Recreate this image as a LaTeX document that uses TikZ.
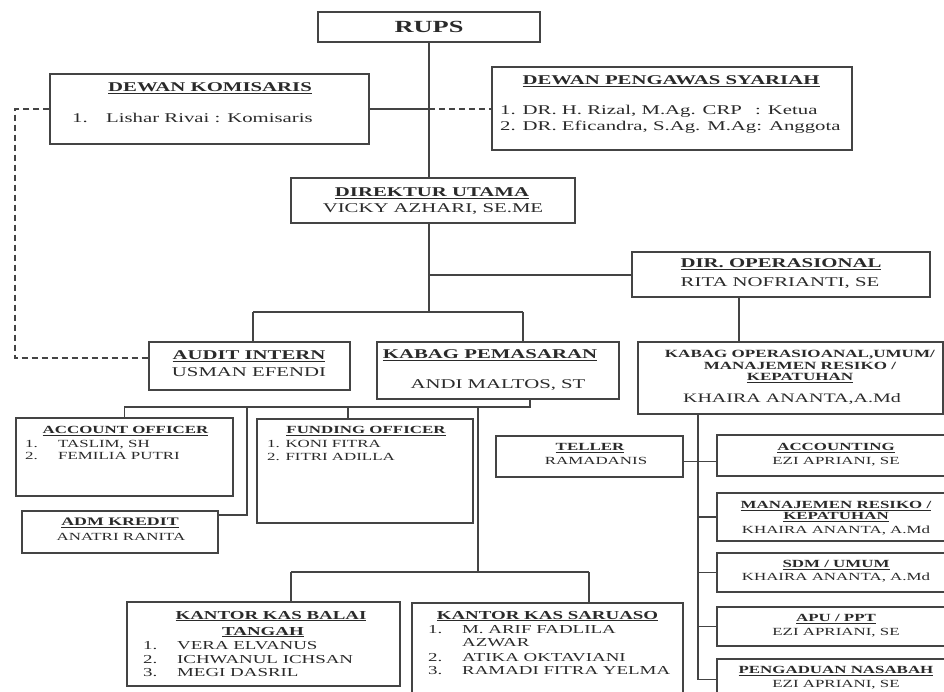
\documentclass[tikz,border=0pt]{standalone}
\usepackage{fontspec}
\setmainfont{Liberation Serif}[FakeStretch=1.55]
\definecolor{linec}{HTML}{444444}
\definecolor{txtc}{HTML}{2A2A2A}
\newcommand\szrups{\fontsize{17}{19}\selectfont}
\newcommand\szbig{\fontsize{13.4}{16}\selectfont}
\newcommand\szops{\fontsize{11}{12}\selectfont}
\newcommand\szkh{\fontsize{12.9}{15}\selectfont}
\newcommand\szsm{\fontsize{10.9}{12}\selectfont}
\newcommand\szadm{\fontsize{11.5}{13}\selectfont}
\newcommand\szkk{\fontsize{12.2}{14}\selectfont}
\newcommand\hd[1]{\textbf{\setbox0\hbox{#1}\rlap{\rule[-2.2pt]{\wd0}{0.75pt}}\box0}}
\newcommand\mybox[5]{\node[box, minimum width={(#4)-(#2)}, minimum height={(#5)-(#3)}] (#1) at ({((#2)+(#4))/2},{((#3)+(#5))/2}) {};}
\begin{document}
\begin{tikzpicture}[x=1pt,y=-1pt,
 box/.style={draw=linec, line width=1.3pt, inner sep=0pt},
 conn/.style={draw=linec, line width=1.3pt},
 dsh/.style={conn, line width=1.5pt, dash pattern=on 6pt off 4pt},
 lbl/.style={inner sep=0pt, anchor=base, text=txtc},
 lbll/.style={lbl, anchor=base west}]
\useasboundingbox (0,0) rectangle (944,692);
\fill[white] (0,0) rectangle (944,692);

% boxes
\mybox{rups}{318}{12}{540}{42}
\mybox{dk}{50}{74}{369}{144}
\mybox{dps}{492}{67}{852}{150}
\mybox{du}{291}{178}{575}{223}
\mybox{dops}{632}{252}{930}{297}
\mybox{audit}{149}{342}{350}{390}
\mybox{kpem}{377}{342}{619}{399}
\mybox{kops}{638}{342}{943}{414}
\mybox{ao}{16}{418}{233}{496}
\mybox{fo}{257}{419}{473}{523}
\mybox{adm}{22}{511}{218}{553}
\mybox{teller}{496}{436}{683}{477}
\mybox{acc}{717}{435}{947}{476}
\mybox{mr}{717}{493}{947}{541}
\mybox{sdm}{717}{553}{947}{592}
\mybox{apu}{717}{607}{947}{646}
\mybox{peng}{717}{659}{947}{700}
\mybox{kbt}{127}{602}{400}{686}
\mybox{ksar}{412}{603}{683}{700}

% junction coordinates
\coordinate (ja) at (253,312);
\coordinate (jk) at (523,312);
\coordinate (jo) at (429,275);
\coordinate (kx) at (739,0);
\coordinate (dl) at (15,0);
\coordinate (p1) at (530,407);
\coordinate (f1) at (348,407);
\coordinate (a1) at (247,407);
\coordinate (k1) at (478,407);
\coordinate (k2) at (478,572);
\coordinate (b1) at (291,572);
\coordinate (s1) at (589,572);
\coordinate (t0) at (698,0);
\coordinate (aw) at ([yshift=8pt]audit.west);
\coordinate (ae) at ([yshift=17pt]adm.east);
\coordinate (te) at ([yshift=-5pt]teller.east);

% connectors
\draw[conn] (rups.south) -- (rups.south |- du.north);
\draw[conn] (dk.east) -- (dk.east -| rups.south);
\draw[dsh] (dk.east -| rups.south) -- (dps.west |- dk.east);
\draw[dsh] (dk.west) -- (dk.west -| dl) -- (dl |- aw) -- (aw);
\draw[conn] (rups.south |- du.south) -- (rups.south |- ja);
\draw[conn] (ja) -- (jk);
\draw[conn] (ja) -- (ja |- audit.north);
\draw[conn] (jk) -- (jk |- kpem.north);
\draw[conn] (jo) -- (jo -| dops.west);
\draw[conn] (kx |- dops.south) -- (kx |- kops.north);
\draw[conn] (p1 |- kpem.south) -- (p1) -- (p1 -| ao.north) -- (ao.north);
\draw[conn] (f1) -- (f1 |- fo.north);
\draw[conn] (a1) -- (a1 |- ae) -- (ae);
\draw[conn] (k1) -- (k2);
\draw[conn] (b1) -- (s1);
\draw[conn] (b1) -- (b1 |- kbt.north);
\draw[conn] (s1) -- (s1 |- ksar.north);
\draw[conn] (t0 |- kops.south) -- (t0 |- peng.west);
\draw[conn] (te) -- (te -| acc.west);
\foreach \n in {mr,sdm,apu,peng} \draw[conn] (t0 |- \n.west) -- (\n.west);

% texts
\node[lbl,font=\szrups] (trups) at (429,33) {\textbf{RUPS}};
\node[lbl,font=\szbig] (tdk) at (210,91.4) {\hd{DEWAN KOMISARIS}};
\node[lbll,font=\szbig] (tdk1) at (72,122.4) {\makebox[34pt][l]{1.}Lishar Rivai : Komisaris};
\node[lbl,font=\szbig] (tdps) at (671,84.4) {\hd{DEWAN PENGAWAS SYARIAH}};
\node[lbll,font=\szbig] (tdps1) at (500,114.4) {\makebox[255pt][l]{1. DR. H. Rizal, M.Ag. CRP}: Ketua};
\node[lbll,font=\szbig] (tdps2) at (500,130.4) {2. DR. Eficandra, S.Ag. M.Ag: Anggota};
\node[lbl,font=\szbig] (tdu) at (432,196.4) {\hd{DIREKTUR UTAMA}};
\node[lbl,font=\szbig] (tdu1) at (433,212.4) {VICKY AZHARI, SE.ME};
\node[lbl,font=\szbig] (tdops) at (781,267.4) {\hd{DIR. OPERASIONAL}};
\node[lbl,font=\szbig] (tdops1) at (780,286.4) {RITA NOFRIANTI, SE};
\node[lbl,font=\szbig] (taud) at (249,359.4) {\hd{AUDIT INTERN}};
\node[lbl,font=\szbig] (taud1) at (249,376.4) {USMAN EFENDI};
\node[lbl,font=\szbig] (tkp) at (490,358.4) {\hd{KABAG PEMASARAN}};
\node[lbl,font=\szbig] (tkp1) at (498,388.4) {ANDI MALTOS, ST};
\node[lbl,font=\szops] (tko) at (800,357.6) {\textbf{KABAG OPERASIOANAL,UMUM/}};
\node[lbl,font=\szops] (tko2) at (800,369.6) {\textbf{MANAJEMEN RESIKO /}};
\node[lbl,font=\szops] (tko3) at (800,380.6) {\hd{KEPATUHAN}};
\node[lbl,font=\szkh] (tko4) at (792,402.3) {KHAIRA ANANTA,A.Md};

\node[lbl,font=\szsm] (tao) at (125.5,433.6) {\hd{ACCOUNT OFFICER}};
\node[lbll,font=\szsm] (tao1) at (25,447.6) {\makebox[33pt][l]{1.}TASLIM, SH};
\node[lbll,font=\szsm] (tao2) at (25,459.6) {\makebox[33pt][l]{2.}FEMILIA PUTRI};
\node[lbl,font=\szsm] (tfo) at (366,433.6) {\hd{FUNDING OFFICER}};
\node[lbll,font=\szsm] (tfo1) at (267,447.6) {1. KONI FITRA};
\node[lbll,font=\szsm] (tfo2) at (267,460.6) {2. FITRI ADILLA};
\node[lbl,font=\szadm] (tadm) at (120,525.8) {\hd{ADM KREDIT}};
\node[lbl,font=\szsm] (tadm1) at (121,540.6) {ANATRI RANITA};
\node[lbl,font=\szsm] (ttel) at (590,450.6) {\hd{TELLER}};
\node[lbl,font=\szsm] (ttel1) at (596,464.6) {RAMADANIS};

\node[lbl,font=\szsm] (tacc) at (836,450.6) {\hd{ACCOUNTING}};
\node[lbl,font=\szsm] (tacc1) at (836,464.6) {EZI APRIANI, SE};
\node[lbl,font=\szsm] (tmr) at (836,508.6) {\hd{MANAJEMEN RESIKO /}};
\node[lbl,font=\szsm] (tmr2) at (836,519.6) {\hd{KEPATUHAN}};
\node[lbl,font=\szsm] (tmr3) at (836,533.6) {KHAIRA ANANTA, A.Md};
\node[lbl,font=\szsm] (tsdm) at (836,567.6) {\hd{SDM / UMUM}};
\node[lbl,font=\szsm] (tsdm1) at (836,580.6) {KHAIRA ANANTA, A.Md};
\node[lbl,font=\szsm] (tapu) at (836,621.6) {\hd{APU / PPT}};
\node[lbl,font=\szsm] (tapu1) at (836,635.6) {EZI APRIANI, SE};
\node[lbl,font=\szsm] (tpeng) at (836,673.6) {\hd{PENGADUAN NASABAH}};
\node[lbl,font=\szsm] (tpeng1) at (836,687.6) {EZI APRIANI, SE};

\node[lbl,font=\szkk] (tkbt) at (271,619) {\hd{KANTOR KAS BALAI}};
\node[lbl,font=\szkk] (tkbt2) at (263,635) {\hd{TANGAH}};
\node[lbll,font=\szkk] (tkbt3) at (143,649) {\makebox[34pt][l]{1.}VERA ELVANUS};
\node[lbll,font=\szkk] (tkbt4) at (143,663) {\makebox[34pt][l]{2.}ICHWANUL ICHSAN};
\node[lbll,font=\szkk] (tkbt5) at (143,676) {\makebox[34pt][l]{3.}MEGI DASRIL};

\node[lbl,font=\szkk] (tks) at (547.5,619) {\hd{KANTOR KAS SARUASO}};
\node[lbll,font=\szkk] (tks1) at (428,633) {\makebox[34pt][l]{1.}M. ARIF FADLILA};
\node[lbll,font=\szkk] (tks2) at (462,646) {AZWAR};
\node[lbll,font=\szkk] (tks3) at (428,661) {\makebox[34pt][l]{2.}ATIKA OKTAVIANI};
\node[lbll,font=\szkk] (tks4) at (428,674) {\makebox[34pt][l]{3.}RAMADI FITRA YELMA};
\end{tikzpicture}
\end{document}
